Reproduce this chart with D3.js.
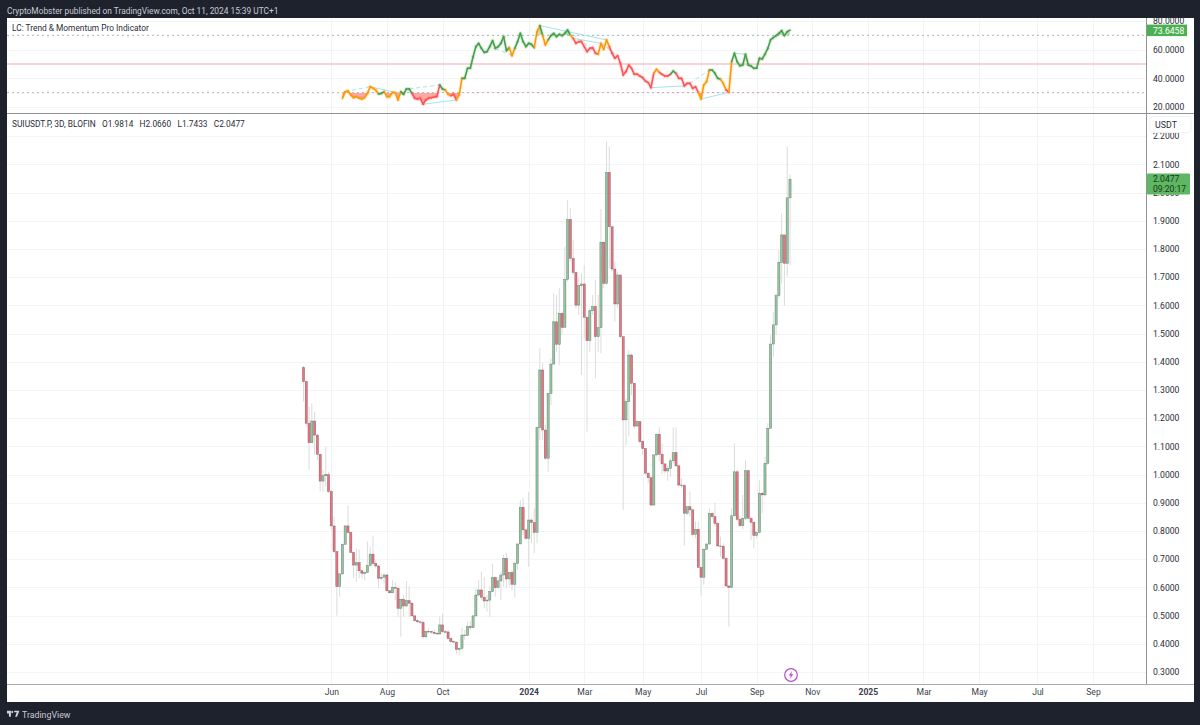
<!DOCTYPE html>
<html><head><meta charset="utf-8">
<script src="https://cdn.jsdelivr.net/npm/d3@7/dist/d3.min.js"></script>
<style>
html,body{margin:0;padding:0;background:#1e222d;overflow:hidden}
svg{display:block}
text{font-family:Roboto,"Noto Sans",sans-serif}
.axis path,.axis line{display:none}
</style></head><body><svg id="c" width="1200" height="725"></svg>
<script>
const firstOpen = 1.380;
const closes = [
1.330,1.182,1.113,1.190,1.140,1.072,.977,.996,1.000,.940,
.818,.727,.603,.648,.753,.818,.795,.724,.679,.688,
.659,.650,.653,.678,.718,.685,.676,.632,.636,.644,
.588,.581,.600,.597,.526,.558,.534,.553,.544,.499,
.482,.478,.476,.425,.443,.444,.441,.437,.435,.467,
.443,.442,.419,.408,.406,.380,.384,.431,.430,.461,
.457,.499,.573,.591,.565,.552,.555,.585,.635,.599,
.623,.644,.703,.630,.653,.611,.685,.754,.884,.804,
.774,.839,.830,.795,1.167,1.371,1.158,1.058,1.288,1.392,
1.542,1.462,1.572,1.522,1.692,1.905,1.767,1.717,1.601,1.670,
1.676,1.558,1.475,1.581,1.596,1.489,1.521,1.824,1.678,2.072,
1.879,1.729,1.605,1.708,1.489,1.194,1.259,1.424,1.324,1.172,
1.188,1.117,1.093,1.005,.989,.892,1.070,1.143,1.072,1.038,
1.013,1.022,1.049,1.078,1.031,.963,.962,.863,.886,.875,
.788,.806,.671,.636,.735,.754,.863,.851,.827,.747,
.746,.703,.605,.600,.854,1.010,.841,.819,.845,1.014,
.845,.831,.784,.795,.934,.928,1.040,1.164,1.463,1.531,
1.635,1.753,1.850,1.749,1.9814,2.0477];
const highs = [
1.386,1.333,1.241,1.253,1.223,1.145,1.075,1.016,1.097,1.010,
.945,.851,.730,.650,.756,.821,.889,.798,.727,.739,
.735,.662,.656,.762,.745,.783,.697,.680,.650,.650,
.650,.591,.626,.620,.603,.555,.573,.623,.603,.550,
.502,.490,.482,.484,.449,.455,.447,.449,.443,.496,
.508,.449,.449,.423,.414,.408,.387,.457,.449,.478,
.482,.502,.597,.626,.656,.638,.573,.603,.685,.638,
.638,.656,.715,.723,.656,.662,.691,.756,.910,.919,
.809,.939,.845,.880,1.170,1.448,1.395,1.176,1.288,1.412,
1.643,1.637,1.661,1.578,1.808,1.974,1.944,1.832,1.720,1.696,
1.714,1.743,1.560,1.590,1.637,1.690,1.637,1.942,1.826,2.181,
2.163,1.879,1.755,1.720,1.708,1.489,1.270,1.442,1.430,1.324,
1.194,1.188,1.123,1.093,1.010,.993,1.070,1.146,1.168,1.111,
1.040,1.034,1.058,1.168,1.168,1.034,.987,.966,.886,.940,
.880,.833,.833,.671,.739,.756,.880,.869,.900,.833,
.780,.756,.709,.609,.880,1.111,1.016,.851,.928,1.052,
1.016,.851,.833,.798,.981,.940,1.064,1.182,1.495,1.578,
1.643,1.796,1.927,1.850,2.163,2.0660];
const lows = [
1.259,1.170,1.016,1.111,1.070,1.052,.940,.940,.957,.934,
.804,.721,.500,.567,.644,.750,.792,.721,.632,.620,
.632,.632,.626,.650,.674,.680,.668,.599,.626,.614,
.585,.577,.579,.555,.496,.425,.496,.532,.496,.496,
.478,.473,.470,.420,.419,.437,.435,.431,.431,.431,
.437,.437,.416,.402,.402,.364,.360,.378,.414,.428,
.449,.455,.496,.567,.555,.526,.514,.496,.585,.567,
.597,.555,.603,.597,.603,.591,.565,.662,.754,.786,
.768,.673,.756,.721,.756,1.123,1.123,1.052,1.010,1.247,
1.389,1.436,1.389,1.495,1.661,1.684,1.755,1.708,1.590,1.566,
1.353,1.483,1.152,1.436,1.566,1.341,1.436,1.430,1.661,1.672,
1.731,1.720,1.542,1.590,1.483,.875,1.105,1.135,1.282,1.164,
1.170,1.111,1.070,.999,.969,.890,.890,1.064,1.046,1.002,
1.005,.978,.993,1.040,1.028,.957,.951,.747,.857,.851,
.780,.774,.668,.571,.609,.733,.750,.845,.815,.745,
.709,.697,.603,.461,.597,.851,.833,.815,.806,.839,
.845,.768,.739,.774,.792,.863,.922,1.034,1.164,1.418,
1.495,1.625,1.678,1.599,1.702,1.7433];
const momentum = [
26.05,30.7,31.2,28.4,26.5,27.2,26.05,25.6,26.5,29.5,
34.2,33.0,31.9,29.1,29.5,30.7,27.2,27.2,30.2,30.0,
24.9,30.7,28.8,32.6,32.6,29.5,26.05,25.6,26.05,21.9,
24.9,26.05,26.5,27.0,27.2,35.4,32.6,31.9,28.8,27.9,
28.8,24.9,28.4,40.0,40.0,47.0,47.0,55.1,62.1,64.4,
60.9,58.1,58.6,62.1,66.3,60.9,62.1,64.4,69.1,59.3,
61.4,55.8,60.9,65.6,71.4,65.6,62.1,64.4,63.7,61.4,
72.6,76.8,70.2,63.3,66.8,69.8,71.4,69.1,70.7,69.8,
71.4,73.7,70.2,67.9,64.4,65.6,65.6,62.1,58.6,60.9,
61.4,57.5,56.8,64.4,60.2,66.8,62.1,57.5,54.0,55.8,
50.5,42.3,44.7,49.3,47.0,42.8,43.0,41.6,40.5,38.1,
37.0,33.5,43.5,46.3,44.2,42.8,41.6,41.6,42.8,45.1,
43.5,40.0,40.0,34.7,36.5,36.5,33.0,34.2,30.2,25.6,
35.4,37.7,45.8,45.8,43.5,40.0,39.3,36.5,31.9,30.2,
51.6,57.5,51.6,48.8,49.3,56.8,49.3,48.6,47.0,47.0,
54.0,53.5,56.8,60.9,66.8,68.4,69.8,71.4,73.3,69.8,
72.6,73.6458];
// bar index where each colour of the momentum line begins
const runStarts = [14,27,29,35,39,49,51,53,55,57,74,76,83,85,86,88,96,97,106,110,126,128,132,134,142,146,150,152,153,154];
const runColors = ["o","g","o","g","r","g","o","r","o","g","o","g","o","g","o","g","o","r","o","r","o","r","g","r","o","g","o","r","o","g"];
// divergence links: bar index from, bar index to, dashed flag
const divFrom = [15,24,38,43,69,85,97,95,107,125,139,143,155];
const divTo   = [24,36,49,55,75,109,107,106,113,137,146,153,159];
const divDash = [1,0,1,0,1,0,0,1,1,0,1,0,0];
const priceTicks = [2.2,2.1,2.0,1.9,1.8,1.7,1.6,1.5,1.4,1.3,1.2,1.1,1.0,.9,.8,.7,.6,.5,.4,.3];
const indTicks = [80,60,40,20];
const timeBars = [10,30,50,81,101,122,143,163,183,203,223,243,264,284];
const timeLabels = ["Jun","Aug","Oct","2024","Mar","May","Jul","Sep","Nov","2025","Mar","May","Jul","Sep"];
const header = "CryptoMobster published on TradingView.com, Oct 11, 2024 15:39 UTC+1";
const indTitle = "LC: Trend & Momentum Pro Indicator";
const mainTitle = "SUIUSDT.P, 3D, BLOFIN   O1.9814   H2.0660   L1.7433   C2.0477";
const lastInd = 73.6458, lastPrice = 2.0477, countdown = "09:20:17";

const W=1200,H=725,L=7,R=1194,T=18,B=702,AX=1146,SEP=113,TB=684;
const svg=d3.select("#c");
const opens=closes.map((c,i)=>i?closes[i-1]:firstOpen);
opens[175]=1.9814;
const x=d3.scaleLinear().domain([0,175]).range([303.5,790]);
const y=d3.scaleLinear().domain([.3,2.2]).range([672,136.2]);
const yi=d3.scaleLinear().domain([20,80]).range([107,21]);
const C={g:"#43a047",o:"#ff9800",r:"#ff5252"};
const ink="#2a2e39";
const tickSize=8.6, titleSize=8.35;

svg.append("rect").attr("width",W).attr("height",H).attr("fill","#1e222d");
svg.append("rect").attr("x",L).attr("y",T).attr("width",R-L).attr("height",B-T).attr("fill","#fff");

// grid
const grid=svg.append("g").attr("stroke","#f3f4f6").attr("stroke-width",1);
timeBars.forEach(b=>{const px=Math.round(x(b))+.5;
  grid.append("line").attr("x1",px).attr("x2",px).attr("y1",T).attr("y2",SEP);
  grid.append("line").attr("x1",px).attr("x2",px).attr("y1",SEP).attr("y2",TB);});
priceTicks.forEach(t=>{const py=Math.round(y(t))+.5;grid.append("line").attr("x1",L).attr("x2",AX).attr("y1",py).attr("y2",py);});
indTicks.forEach(t=>{const py=Math.round(yi(t))+.5;grid.append("line").attr("x1",L).attr("x2",AX).attr("y1",py).attr("y2",py);});

// indicator levels
[70,30].forEach(v=>svg.append("line").attr("x1",L).attr("x2",AX).attr("y1",yi(v)).attr("y2",yi(v))
  .attr("stroke","#b4b4b4").attr("stroke-width",1).attr("stroke-dasharray","2 3"));
svg.append("line").attr("x1",L).attr("x2",AX).attr("y1",yi(50)).attr("y2",yi(50)).attr("stroke","#f8a7ad").attr("stroke-width",1.2);

// indicator
const start=closes.length-momentum.length;
const pts=momentum.map((v,k)=>({i:start+k,v}));
const defs=svg.append("defs");
defs.append("clipPath").attr("id","below").append("rect").attr("x",L).attr("width",AX-L).attr("y",yi(30)).attr("height",SEP-yi(30));
defs.append("clipPath").attr("id","above").append("rect").attr("x",L).attr("width",AX-L).attr("y",T).attr("height",yi(70)-T);
const areaAt=lv=>d3.area().x(d=>x(d.i)).y0(yi(lv)).y1(d=>yi(d.v));
svg.append("path").attr("d",areaAt(30)(pts)).attr("fill","#ff5252").attr("fill-opacity",.5).attr("clip-path","url(#below)");
svg.append("path").attr("d",areaAt(70)(pts)).attr("fill","#43a047").attr("fill-opacity",.3).attr("clip-path","url(#above)");
const vAt=i=>momentum[i-start];
divFrom.forEach((f,k)=>{
  svg.append("line").attr("x1",x(f)).attr("y1",yi(vAt(f))).attr("x2",x(divTo[k])).attr("y2",yi(vAt(divTo[k])))
    .attr("stroke","#a3e4ee").attr("stroke-width",1).attr("stroke-dasharray",divDash[k]?"4 3":null);
});
const colorAt=i=>{let c="o";runStarts.forEach((s,k)=>{if(i>=s)c=runColors[k];});return C[c];};
const seg=d3.line().x(d=>x(d.i)).y(d=>yi(d.v));
const glow=svg.append("g").attr("fill","none").attr("stroke-width",4).attr("stroke-opacity",.12).attr("stroke-linecap","round");
const main=svg.append("g").attr("fill","none").attr("stroke-width",1.6).attr("stroke-linecap","round").attr("stroke-linejoin","round");
for(let k=0;k<pts.length-1;k++){
  const d=seg([pts[k],pts[k+1]]),col=colorAt(pts[k].i);
  glow.append("path").attr("d",d).attr("stroke",col);
  main.append("path").attr("d",d).attr("stroke",col);
}

// candles
const cg=svg.append("g");
cg.selectAll("line").data(closes).join("line")
  .attr("x1",(d,i)=>x(i)).attr("x2",(d,i)=>x(i))
  .attr("y1",(d,i)=>y(highs[i])).attr("y2",(d,i)=>y(lows[i]))
  .attr("stroke","#dcdcdc").attr("stroke-width",1);
cg.selectAll("rect").data(closes).join("rect")
  .attr("x",(d,i)=>x(i)-1.1).attr("width",2.2)
  .attr("y",(d,i)=>y(Math.max(d,opens[i])))
  .attr("height",(d,i)=>Math.max(.6,Math.abs(y(d)-y(opens[i]))))
  .attr("fill",(d,i)=>d>=opens[i]?"#93c69f":"#f0707f")
  .attr("stroke","#3c4a42").attr("stroke-opacity",.6).attr("stroke-width",.5);

// frames
svg.append("line").attr("x1",L).attr("x2",R).attr("y1",SEP+.5).attr("y2",SEP+.5).attr("stroke","#8f9298");
svg.append("line").attr("x1",L).attr("x2",R).attr("y1",TB+.5).attr("y2",TB+.5).attr("stroke","#a8abb0").attr("stroke-width",1.2);
svg.append("line").attr("x1",AX+.5).attr("x2",AX+.5).attr("y1",T).attr("y2",TB).attr("stroke","#8f9298");

// axes
const fmt=d3.format(".4f");
const styleAxis=g=>g.attr("class","axis").call(s=>s.selectAll("text").attr("fill",ink).attr("font-size",tickSize).attr("font-family",null));
svg.append("g").attr("transform",`translate(${AX+7},0)`).call(d3.axisRight(y).tickValues(priceTicks).tickFormat(fmt).tickSize(0).tickPadding(0)).call(styleAxis);
svg.append("g").attr("transform",`translate(${AX+7},0)`).call(d3.axisRight(yi).tickValues(indTicks).tickFormat(fmt).tickSize(0).tickPadding(0)).call(styleAxis);
const tAxis=svg.append("g").attr("transform",`translate(0,${TB+5})`).call(d3.axisBottom(x).tickValues(timeBars).tickFormat((d,i)=>timeLabels[i]).tickSize(0).tickPadding(0)).call(styleAxis);
tAxis.selectAll("text").attr("fill","#3b3f4a").attr("font-weight",(d,i)=>/^20/.test(timeLabels[i])?700:400);

// badges
svg.append("rect").attr("x",AX+1).attr("y",yi(lastInd)-5.5).attr("width",40).attr("height",11.5).attr("fill","#4caf50");
svg.append("text").attr("x",AX+7).attr("y",yi(lastInd)+3.5).attr("fill","#fff").attr("font-size",tickSize).text(fmt(lastInd));
svg.append("rect").attr("x",AX+1).attr("y",173.5).attr("width",43).attr("height",21).attr("rx",1).attr("fill","#5fb663");
svg.append("text").attr("x",AX+7).attr("y",y(lastPrice)+3).attr("fill","#163a18").attr("font-size",tickSize).text(fmt(lastPrice));
svg.append("text").attr("x",AX+7).attr("y",191.5).attr("fill","#163a18").attr("font-size",tickSize).text(countdown);
svg.append("rect").attr("x",1150).attr("y",116.5).attr("width",41).attr("height",16).attr("rx",3).attr("fill","#fff").attr("stroke","#f0f1f3");
svg.append("text").attr("x",1166).attr("y",127.5).attr("text-anchor","middle").attr("fill",ink).attr("font-size",8.8).text("USDT");

// titles
svg.append("text").attr("x",7).attr("y",13.5).attr("fill","#c8cbd3").attr("font-size",titleSize).text(header);
svg.append("text").attr("x",12).attr("y",31).attr("fill",ink).attr("font-size",titleSize).text(indTitle);
svg.append("text").attr("x",12).attr("y",126.5).attr("fill",ink).attr("font-size",titleSize).style("white-space","pre").text(mainTitle);

// footer
const logo=svg.append("g").attr("transform","translate(7,710.7) scale(.65,.92)").attr("fill","#d1d4dc");
logo.append("path").attr("d","M0 0H6V6.5H3V3H0Z");
logo.append("circle").attr("cx",8).attr("cy",1.4).attr("r",1.4);
logo.append("path").attr("d","M11 0H19L15.5 6.5H12.5L15 1.8H11Z");
svg.append("text").attr("x",22).attr("y",717.5).attr("fill","#c8cbd3").attr("font-size",8.8).text("TradingView");

// event icon
const ev=svg.append("g").attr("transform","translate(791,675)");
ev.append("circle").attr("r",6.3).attr("fill","#fff").attr("stroke","#b24fd3").attr("stroke-width",1.2);
ev.append("path").attr("d","M1.2 -4L-2.3 0.6H-0.2L-1.2 4L2.3 -0.8H0.2Z").attr("fill","#b24fd3");
</script></body></html>
